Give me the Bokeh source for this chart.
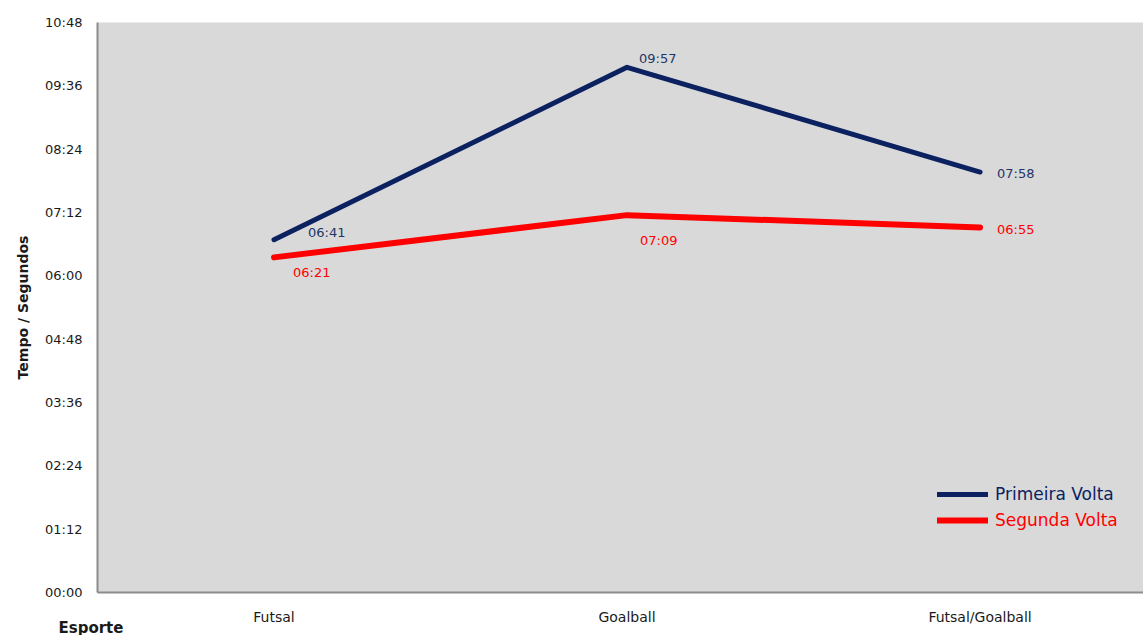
from bokeh.plotting import figure
from bokeh.models import (Range1d, FixedTicker, Title, Legend, LegendItem,
                          ColumnDataSource)
from bokeh.embed import file_html
from bokeh.resources import INLINE
from bokeh.core.properties import value

# Lap times per sport, in seconds
categories = ["Futsal", "Goalball", "Futsal/Goalball"]
primeira_volta = [401, 597, 478]   # 06:41, 09:57, 07:58
segunda_volta = [381, 429, 415]    # 06:21, 07:09, 06:55

y_ticks = [0, 72, 144, 216, 288, 360, 432, 504, 576, 648]
y_tick_labels = ["00:00", "01:12", "02:24", "03:36", "04:48",
                 "06:00", "07:12", "08:24", "09:36", "10:48"]

FONT = "DejaVu Sans"
NAVY = "#0b2160"
RED = "#ff0000"
TEXT = "#1a1a1a"


def mmss(seconds):
    return "%02d:%02d" % (seconds // 60, seconds % 60)


x_pos = [i + 0.5 for i in range(len(categories))]

p = figure(width=1143, height=635, output_backend="svg", toolbar_location=None,
           x_range=Range1d(0, 2.963), y_range=Range1d(0, 648),
           min_border_left=97, min_border_right=0, min_border_top=22,
           min_border_bottom=43)

p.background_fill_color = "#d9d9d9"
p.border_fill_color = "white"
p.outline_line_color = None
p.xgrid.visible = False
p.ygrid.visible = False

# Axes
p.yaxis.ticker = FixedTicker(ticks=y_ticks)
p.yaxis.major_label_overrides = {t: l for t, l in zip(y_ticks, y_tick_labels)}
p.xaxis.ticker = FixedTicker(ticks=x_pos)
p.xaxis.major_label_overrides = {x: c for x, c in zip(x_pos, categories)}

for ax in (p.xaxis, p.yaxis):
    ax.axis_line_color = "#8c8c8c"
    ax.axis_line_width = 2
    ax.major_tick_line_color = None
    ax.minor_tick_line_color = None
    ax.major_label_text_font = FONT
    ax.major_label_text_color = TEXT

p.yaxis.major_label_text_font_size = "13px"
p.xaxis.major_label_text_font_size = "14px"
p.yaxis.major_label_standoff = 9
p.xaxis.major_label_standoff = 10
p.yaxis.axis_label = "Tempo / Segundos"
p.yaxis.axis_label_text_font = FONT
p.yaxis.axis_label_text_font_size = "14px"
p.yaxis.axis_label_text_font_style = "bold"
p.yaxis.axis_label_text_color = TEXT
p.yaxis.axis_label_standoff = 11

# Category caption under the x axis, at the left edge
p.add_layout(Title(text="Esporte", align="left", offset=-39, standoff=-18,
                   vertical_align="top",
                   text_font=FONT, text_font_size="15px",
                   text_font_style="bold", text_color=TEXT), "below")

# Series lines
src_a = ColumnDataSource(dict(x=x_pos, y=primeira_volta))
src_b = ColumnDataSource(dict(x=x_pos, y=segunda_volta))
r_b = p.line("x", "y", source=src_b, line_color=RED, line_width=6,
             line_cap="round", line_join="round")
r_a = p.line("x", "y", source=src_a, line_color=NAVY, line_width=5,
             line_cap="round", line_join="round")

# Value labels next to each point
a_dx = [34, 12, 17]
a_dy = [-7, -9, 1]
b_dx = [19, 13, 17]
b_dy = [15, 25, 2]
p.text(x=x_pos, y=primeira_volta, text=[mmss(v) for v in primeira_volta],
       x_offset=a_dx, y_offset=a_dy, text_font=value(FONT),
       text_font_size="13px", text_color="#1f3566", text_baseline="middle")
p.text(x=x_pos, y=segunda_volta, text=[mmss(v) for v in segunda_volta],
       x_offset=b_dx, y_offset=b_dy, text_font=value(FONT),
       text_font_size="13px", text_color=RED, text_baseline="middle")

# Two legends so each entry keeps its own text colour
for item, colour, loc in ((LegendItem(label="Primeira Volta", renderers=[r_a]), NAVY, (840, 88)),
                          (LegendItem(label="Segunda Volta", renderers=[r_b]), RED, (840, 62))):
    lg = Legend(items=[item], location=loc, background_fill_alpha=0,
                border_line_color=None, label_text_color=colour,
                label_text_font=FONT, label_text_font_size="17px",
                glyph_width=51, glyph_height=20, padding=0, margin=0,
                label_standoff=7)
    p.add_layout(lg)

open("out.html", "w").write(file_html(p, INLINE))
